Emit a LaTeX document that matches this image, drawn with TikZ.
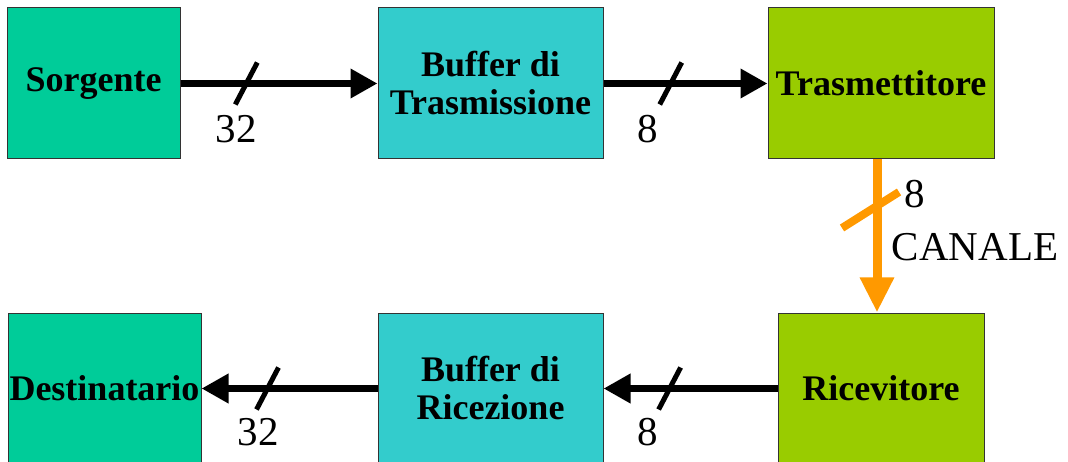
\documentclass[tikz,border=0pt]{standalone}
\usepackage{fontspec}
\setmainfont{Liberation Serif}
\usetikzlibrary{arrows.meta,positioning}
\definecolor{srcgreen}{RGB}{0,204,153}
\definecolor{bufcyan}{RGB}{51,204,204}
\definecolor{txgreen}{RGB}{153,204,0}
\definecolor{chorange}{RGB}{255,153,0}
\tikzset{>={Triangle[length=27pt,width=28pt]}}
\tikzset{block/.style={draw=black!80,line width=1pt,minimum height=151pt,inner sep=0pt,align=center,font=\fontsize{36}{38}\selectfont\bfseries}}
\tikzset{bus/.style={->,line width=7pt}}
\tikzset{tick/.style={line width=5pt}}
\tikzset{width label/.style={font=\fontsize{41}{41}\selectfont,inner sep=0pt}}

\begin{document}
\begin{tikzpicture}[x=1pt,y=-1pt]
				\useasboundingbox (0,0) rectangle (1068,462);
				% upper row
				\node[block,fill=srcgreen,minimum width=173pt] (src) at (93.5,83.5) {Sorgente};
				\node[block,fill=bufcyan,minimum width=225pt] (btx)  [right=197pt of src]  {Buffer di\\Trasmissione};
				\node[block,fill=txgreen,minimum width=226pt] (tx)  [right=164pt of btx]  {Trasmettitore};
				% lower row
				\node[block,fill=txgreen,minimum width=206pt] (rx)  [below=153pt of tx]  {Ricevitore};
				\node[block,fill=bufcyan,minimum width=225pt] (brx)  [left=174pt of rx]  {Buffer di\\Ricezione};
				\node[block,fill=srcgreen,minimum width=193pt] (dst)  [left=176pt of brx]  {Destinatario};
				% buses
				\draw[bus] (src) -- coordinate[pos=.334] (w1) (btx);
				\draw[bus] (btx) -- coordinate[pos=.41] (w2) (tx);
				\draw[bus,chorange,line width=9pt,>={Triangle[length=35pt,width=32pt]}] ([xshift=-4pt]tx.south) -- coordinate[pos=.33] (w3) ([xshift=-4pt]rx.north);
				\draw[bus] (rx) -- coordinate[pos=.62] (w4) (brx);
				\draw[bus] (brx) -- coordinate[pos=.625] (w5) (dst);
				% width ticks
				\draw[tick] (w1) ++(-11,21) -- ++(22,-42);
				\draw[tick] (w2) ++(-11,21) -- ++(22,-42);
				\draw[tick,chorange,line width=8pt] (w3) ++(-35,18) -- ++(57,-36);
				\draw[tick] (w4) ++(-11,21) -- ++(22,-42);
				\draw[tick] (w5) ++(-11,21) -- ++(22,-42);
				% labels
				\node[width label] (l1) at (236,129) {32};
				\node[width label] (l2) at (648,129) {8};
				\node[width label] (l3) at (915,194) {8};
				\node[width label] (ch) at (975,247) {CANALE};
				\node[width label] (l4) at (648,432) {8};
				\node[width label] (l5) at (258,432) {32};
			\end{tikzpicture}
\end{document}
